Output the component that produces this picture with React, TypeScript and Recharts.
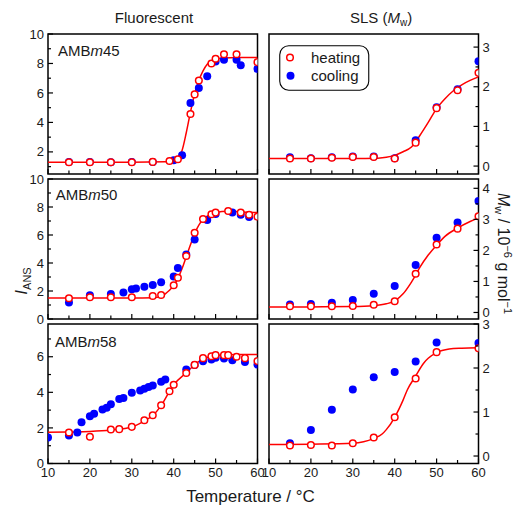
import { ComposedChart, Line, Scatter, XAxis, YAxis, ReferenceArea, Legend } from 'recharts'

const FONT = '"Liberation Sans", Arial, Helvetica, sans-serif'
const RED = '#ff0000'
const BLUE = '#0000ff'
const INK = '#1a1a1a'

const tempTicks = [10, 15, 20, 25, 30, 35, 40, 45, 50, 55, 60]
const tempLabels = [10, 20, 30, 40, 50, 60]

// AMBm45, fluorescence (I_ANS)
const m45FluHeatT = [15, 20, 25, 30, 35, 39, 41, 44, 45, 46, 49, 50, 52, 55, 60]
const m45FluHeat = [1.3, 1.3, 1.3, 1.3, 1.32, 1.38, 1.5, 4.57, 5.9, 6.84, 8.0, 8.32, 8.63, 8.63, 8.09]
const m45FluCoolT = [15, 20, 25, 30, 35, 40, 42, 44, 46, 48, 50, 52, 55, 56, 60]
const m45FluCool = [1.32, 1.32, 1.3, 1.32, 1.32, 1.43, 1.77, 5.32, 6.34, 7.14, 8.13, 8.25, 8.25, 7.88, 7.63]
const m45FluFitT = [10, 20, 30, 38, 40, 41, 42, 43, 44, 45, 46, 47, 48, 49, 50, 52, 55, 60]
const m45FluFit = [1.3, 1.3, 1.3, 1.33, 1.42, 1.6, 2.1, 3.3, 4.7, 5.95, 6.85, 7.5, 7.95, 8.15, 8.28, 8.37, 8.4, 8.4]

// AMBm45, SLS (Mw)
const m45SlsHeatT = [15, 20, 25, 30, 35, 40, 45, 50, 55, 60]
const m45SlsHeat = [0.19, 0.19, 0.21, 0.23, 0.23, 0.19, 0.59, 1.46, 1.91, 2.35]
const m45SlsCoolT = [15, 20, 25, 30, 35, 40, 45, 50, 55, 60]
const m45SlsCool = [0.22, 0.2, 0.22, 0.24, 0.24, 0.2, 0.65, 1.48, 1.94, 2.64]
const m45SlsFitT = [10, 20, 30, 36, 38, 40, 42, 44, 46, 48, 50, 52, 54, 56, 58, 60]
const m45SlsFit = [0.19, 0.19, 0.19, 0.2, 0.22, 0.27, 0.36, 0.48, 0.77, 1.1, 1.45, 1.7, 1.9, 2.05, 2.16, 2.25]

// AMBm50, fluorescence
const m50FluHeatT = [15, 20, 25, 30, 35, 37, 40, 41, 43, 45, 47, 49, 50, 53, 56, 58, 60]
const m50FluHeat = [1.48, 1.55, 1.55, 1.55, 1.64, 1.71, 2.41, 2.95, 4.5, 6.16, 7.14, 7.48, 7.6, 7.71, 7.6, 7.45, 7.31]
const m50FluCoolT = [15, 20, 25, 28, 30, 31, 33, 35, 37, 40, 41, 43, 45, 48, 50, 54, 56, 58]
const m50FluCool = [1.17, 1.69, 1.79, 1.9, 2.12, 2.17, 2.31, 2.43, 2.62, 3.04, 3.64, 4.6, 5.67, 7.07, 7.5, 7.6, 7.45, 7.28]
const m50FluFitT = [10, 20, 30, 35, 37, 38, 39, 40, 41, 42, 43, 44, 45, 46, 47, 48, 49, 50, 53, 56, 60]
const m50FluFit = [1.5, 1.5, 1.5, 1.52, 1.6, 1.8, 2.05, 2.4, 2.9, 3.6, 4.45, 5.3, 6.1, 6.7, 7.1, 7.35, 7.5, 7.6, 7.7, 7.65, 7.6]

// AMBm50, SLS
const m50SlsHeatT = [15, 20, 25, 30, 35, 40, 45, 50, 55, 60]
const m50SlsHeat = [0.2, 0.2, 0.2, 0.21, 0.25, 0.36, 1.25, 2.19, 2.7, 3.1]
const m50SlsCoolT = [15, 20, 25, 30, 35, 40, 45, 50, 55, 60]
const m50SlsCool = [0.26, 0.27, 0.31, 0.4, 0.6, 0.85, 1.53, 2.41, 2.9, 3.59]
const m50SlsFitT = [10, 20, 30, 35, 38, 40, 42, 44, 45, 46, 48, 50, 52, 55, 58, 60]
const m50SlsFit = [0.18, 0.18, 0.19, 0.22, 0.28, 0.37, 0.6, 0.98, 1.2, 1.45, 1.85, 2.17, 2.45, 2.72, 2.93, 3.05]

// AMBm58, fluorescence
const m58FluHeatT = [15, 20, 25, 27, 30, 33, 35, 37, 39, 40, 43, 45, 47, 49, 50, 52, 53, 55, 57, 60]
const m58FluHeat = [1.74, 1.5, 1.91, 1.93, 2.06, 2.43, 2.71, 3.27, 4.06, 4.43, 5.09, 5.54, 5.92, 6.03, 6.09, 6.09, 6.09, 6.0, 5.92, 5.76]
const m58FluCoolT = [10, 15, 17, 18, 20, 21, 23, 24, 25, 27, 28, 30, 32, 33, 34, 35, 37, 38, 43, 45, 47, 49, 50, 52, 54, 57, 60]
const m58FluCool = [1.46, 1.57, 1.74, 2.32, 2.65, 2.8, 3.03, 3.14, 3.33, 3.63, 3.68, 3.97, 4.1, 4.2, 4.3, 4.39, 4.6, 4.72, 5.28, 5.54, 5.75, 5.84, 5.95, 5.9, 5.8, 5.71, 5.56]
const m58FluFitT = [10, 15, 20, 25, 30, 33, 35, 37, 39, 40, 43, 45, 47, 49, 50, 52, 55, 60]
const m58FluFit = [1.75, 1.77, 1.8, 1.88, 2.05, 2.4, 2.7, 3.25, 4.05, 4.42, 5.1, 5.55, 5.88, 6.03, 6.08, 6.1, 6.12, 6.12]

// AMBm58, SLS
const m58SlsHeatT = [15, 20, 25, 30, 35, 40, 45, 50, 60]
const m58SlsHeat = [0.24, 0.25, 0.24, 0.29, 0.42, 0.88, 1.76, 2.36, 2.45]
const m58SlsCoolT = [15, 20, 25, 30, 35, 40, 45, 50, 60]
const m58SlsCool = [0.29, 0.59, 1.05, 1.51, 1.79, 1.91, 2.15, 2.58, 2.57]
const m58SlsFitT = [10, 20, 30, 35, 37, 38, 40, 42, 43, 45, 47, 48, 50, 53, 56, 60]
const m58SlsFit = [0.26, 0.27, 0.29, 0.4, 0.5, 0.6, 0.88, 1.27, 1.5, 1.82, 2.12, 2.22, 2.35, 2.43, 2.45, 2.46]

const zip = (ts: number[], vs: number[]) => ts.map((t, i) => ({ t, v: vs[i] }))
const range = (a: number, b: number, step: number) => {
  const out: number[] = []
  for (let v = a; v <= b + 1e-9; v += step) out.push(Math.round(v * 10) / 10)
  return out
}

type Panel = {
  key: string
  left: number
  top: number
  w: number
  h: number
  side: 'left' | 'right'
  yDomain: [number, number]
  yTicks: number[]
  yLabels: number[]
  xLabels: boolean
  heat: { t: number; v: number }[]
  cool: { t: number; v: number }[]
  fit: { t: number; v: number }[]
  legend?: boolean
}

const LX = 47.5
const RX = 269.3
const PW = 209.5
const panels: Panel[] = [
  {
    key: 'm45f', left: LX, top: 34, w: PW, h: 140, side: 'left', yDomain: [0.5, 10],
    yTicks: range(1, 10, 1), yLabels: [2, 4, 6, 8, 10], xLabels: false,
    heat: zip(m45FluHeatT, m45FluHeat), cool: zip(m45FluCoolT, m45FluCool), fit: zip(m45FluFitT, m45FluFit),
  },
  {
    key: 'm45s', left: RX, top: 34, w: PW, h: 140, side: 'right', yDomain: [-0.2, 3.33],
    yTicks: range(0, 3, 0.5), yLabels: [0, 1, 2, 3], xLabels: false,
    heat: zip(m45SlsHeatT, m45SlsHeat), cool: zip(m45SlsCoolT, m45SlsCool), fit: zip(m45SlsFitT, m45SlsFit), legend: true,
  },
  {
    key: 'm50f', left: LX, top: 179, w: PW, h: 140, side: 'left', yDomain: [0, 10],
    yTicks: range(0, 10, 1), yLabels: [0, 2, 4, 6, 8, 10], xLabels: false,
    heat: zip(m50FluHeatT, m50FluHeat), cool: zip(m50FluCoolT, m50FluCool), fit: zip(m50FluFitT, m50FluFit),
  },
  {
    key: 'm50s', left: RX, top: 179, w: PW, h: 140, side: 'right', yDomain: [-0.21, 4.3],
    yTicks: range(0, 4, 0.5), yLabels: [0, 1, 2, 3, 4], xLabels: false,
    heat: zip(m50SlsHeatT, m50SlsHeat), cool: zip(m50SlsCoolT, m50SlsCool), fit: zip(m50SlsFitT, m50SlsFit),
  },
  {
    key: 'm58f', left: LX, top: 324, w: PW, h: 139.5, side: 'left', yDomain: [0, 7.84],
    yTicks: range(0, 7, 1), yLabels: [0, 2, 4, 6], xLabels: true,
    heat: zip(m58FluHeatT, m58FluHeat), cool: zip(m58FluCoolT, m58FluCool), fit: zip(m58FluFitT, m58FluFit),
  },
  {
    key: 'm58s', left: RX, top: 324, w: PW, h: 139.5, side: 'right', yDomain: [-0.17, 3],
    yTicks: range(0, 3, 0.5), yLabels: [0, 1, 2, 3], xLabels: true,
    heat: zip(m58SlsHeatT, m58SlsHeat), cool: zip(m58SlsCoolT, m58SlsCool), fit: zip(m58SlsFitT, m58SlsFit),
  },
]

function YTick(props: any) {
  const { x, y, payload, side, labels } = props
  const v = payload.value
  const major = labels.includes(v)
  const len = major ? 5 : 3
  const dir = side === 'left' ? 1 : -1
  return (
    <g>
      <line x1={x} x2={x + dir * len} y1={y} y2={y} stroke="#000" strokeWidth={1.2} />
      {major && (
        <text
          x={x - dir * 4}
          y={y + 4.6}
          textAnchor={side === 'left' ? 'end' : 'start'}
          fontSize={13}
          fontFamily={FONT}
          fill={INK}
        >
          {v}
        </text>
      )}
    </g>
  )
}

function XTick(props: any) {
  const { x, y, payload, showLabels } = props
  const v = payload.value
  const major = tempLabels.includes(v)
  const len = major ? 5 : 3.5
  return (
    <g>
      <line x1={x} x2={x} y1={y} y2={y - len} stroke="#000" strokeWidth={1.2} />
      {showLabels && major && (
        <text x={x} y={y + 13} textAnchor="middle" fontSize={13} fontFamily={FONT} fill={INK}>
          {v}
        </text>
      )}
    </g>
  )
}

const CoolDot = (props: any) => <circle cx={props.cx} cy={props.cy} r={4} fill={BLUE} />
const HeatRing = (props: any) => (
  <circle cx={props.cx} cy={props.cy} r={3.3} fill="#fff" stroke={RED} strokeWidth={1.5} />
)

function LegendBox() {
  return (
    <svg width={92} height={48} style={{ display: 'block' }}>
      <rect x={0.75} y={0.75} width={89} height={44.5} rx={9} fill="#fff" stroke="#000" strokeWidth={1.1} />
      <circle cx={11} cy={12.5} r={3.3} fill="#fff" stroke={RED} strokeWidth={1.5} />
      <circle cx={11.5} cy={30.8} r={4} fill={BLUE} />
      <text x={32} y={18.2} fontSize={15} fontFamily={FONT} fill={INK}>heating</text>
      <text x={32} y={36} fontSize={15} fontFamily={FONT} fill={INK}>cooling</text>
    </svg>
  )
}

const ML = 40
const MT = 20
const MB = 30
const AXW = 35

function PanelChart({ p }: { p: Panel }) {
  const W = p.w + ML * 2
  const H = p.h + MT + MB
  return (
    <div style={{ position: 'absolute', left: p.left - ML, top: p.top - MT }}>
      <ComposedChart
        width={W}
        height={H}
        margin={{ top: MT, bottom: 0, left: p.side === 'left' ? ML - AXW : ML, right: p.side === 'right' ? ML - AXW : ML }}
      >
        <XAxis
          type="number"
          dataKey="t"
          domain={[10, 60]}
          ticks={tempTicks}
          interval={0}
          height={MB}
          allowDataOverflow
          axisLine={false}
          tickLine={false}
          tickSize={0}
          tickMargin={0}
          tick={<XTick showLabels={p.xLabels} />}
        />
        <YAxis
          type="number"
          dataKey="v"
          orientation={p.side}
          width={AXW}
          domain={p.yDomain}
          ticks={p.yTicks}
          interval={0}
          allowDataOverflow
          axisLine={false}
          tickLine={false}
          tickSize={0}
          tickMargin={0}
          tick={<YTick side={p.side} labels={p.yLabels} />}
        />
        <ReferenceArea
          x1={10}
          x2={60}
          y1={p.yDomain[0]}
          y2={p.yDomain[1]}
          fill="none"
          stroke="#000"
          strokeWidth={1.5}
          ifOverflow="visible"
        />
        <Scatter data={p.cool} dataKey="v" shape={CoolDot} isAnimationActive={false} />
        <Line
          data={p.fit}
          dataKey="v"
          type="monotone"
          stroke={RED}
          strokeWidth={1.5}
          dot={false}
          activeDot={false}
          isAnimationActive={false}
        />
        <Scatter data={p.heat} dataKey="v" shape={HeatRing} isAnimationActive={false} />
        {p.legend && (
          <Legend
            layout="vertical"
            align="center"
            verticalAlign="middle"
            content={() => <LegendBox />}
            wrapperStyle={{ left: 278.6 - (p.left - ML), top: 45 - (p.top - MT), width: 92, height: 48 }}
          />
        )}
      </ComposedChart>
    </div>
  )
}

export default function App() {
  return (
    <div style={{ position: 'absolute', left: 0, top: 0, width: 515, height: 505, background: '#fff', fontFamily: FONT }}>
      {panels.map((p) => (
        <PanelChart key={p.key} p={p} />
      ))}
      <svg
        width={515}
        height={505}
        style={{ position: 'absolute', left: 0, top: 0, pointerEvents: 'none' }}
        fontFamily={FONT}
        fill={INK}
      >
        <text x={154} y={22.7} textAnchor="middle" fontSize={15}>Fluorescent</text>
        <text x={381} y={22.7} textAnchor="middle" fontSize={15}>
          SLS (<tspan fontStyle="italic">M</tspan>
          <tspan fontSize={10} dy={3}>w</tspan>
          <tspan dy={-3}>)</tspan>
        </text>
        <text x={58} y={56} fontSize={15}>
          AMB<tspan fontStyle="italic">m</tspan>45
        </text>
        <text x={55.7} y={200.3} fontSize={15}>
          AMB<tspan fontStyle="italic">m</tspan>50
        </text>
        <text x={55} y={346.5} fontSize={15}>
          AMB<tspan fontStyle="italic">m</tspan>58
        </text>
        <text transform="translate(27,281) rotate(-90)" textAnchor="middle" fontSize={17}>
          <tspan fontStyle="italic">I</tspan>
          <tspan fontSize={11} dy={4}>ANS</tspan>
        </text>
        <text transform="translate(498,193) rotate(90)" fontSize={16}>
          <tspan fontStyle="italic">M</tspan>
          <tspan fontSize={11} dy={3}>w</tspan>
          <tspan dy={-3}> / 10</tspan>
          <tspan fontSize={11} dy={-6}>−6</tspan>
          <tspan dy={6}> g mol</tspan>
          <tspan fontSize={11} dy={-6}>−1</tspan>
        </text>
        <text x={250.5} y={502} textAnchor="middle" fontSize={17}>Temperature / °C</text>
      </svg>
    </div>
  )
}
